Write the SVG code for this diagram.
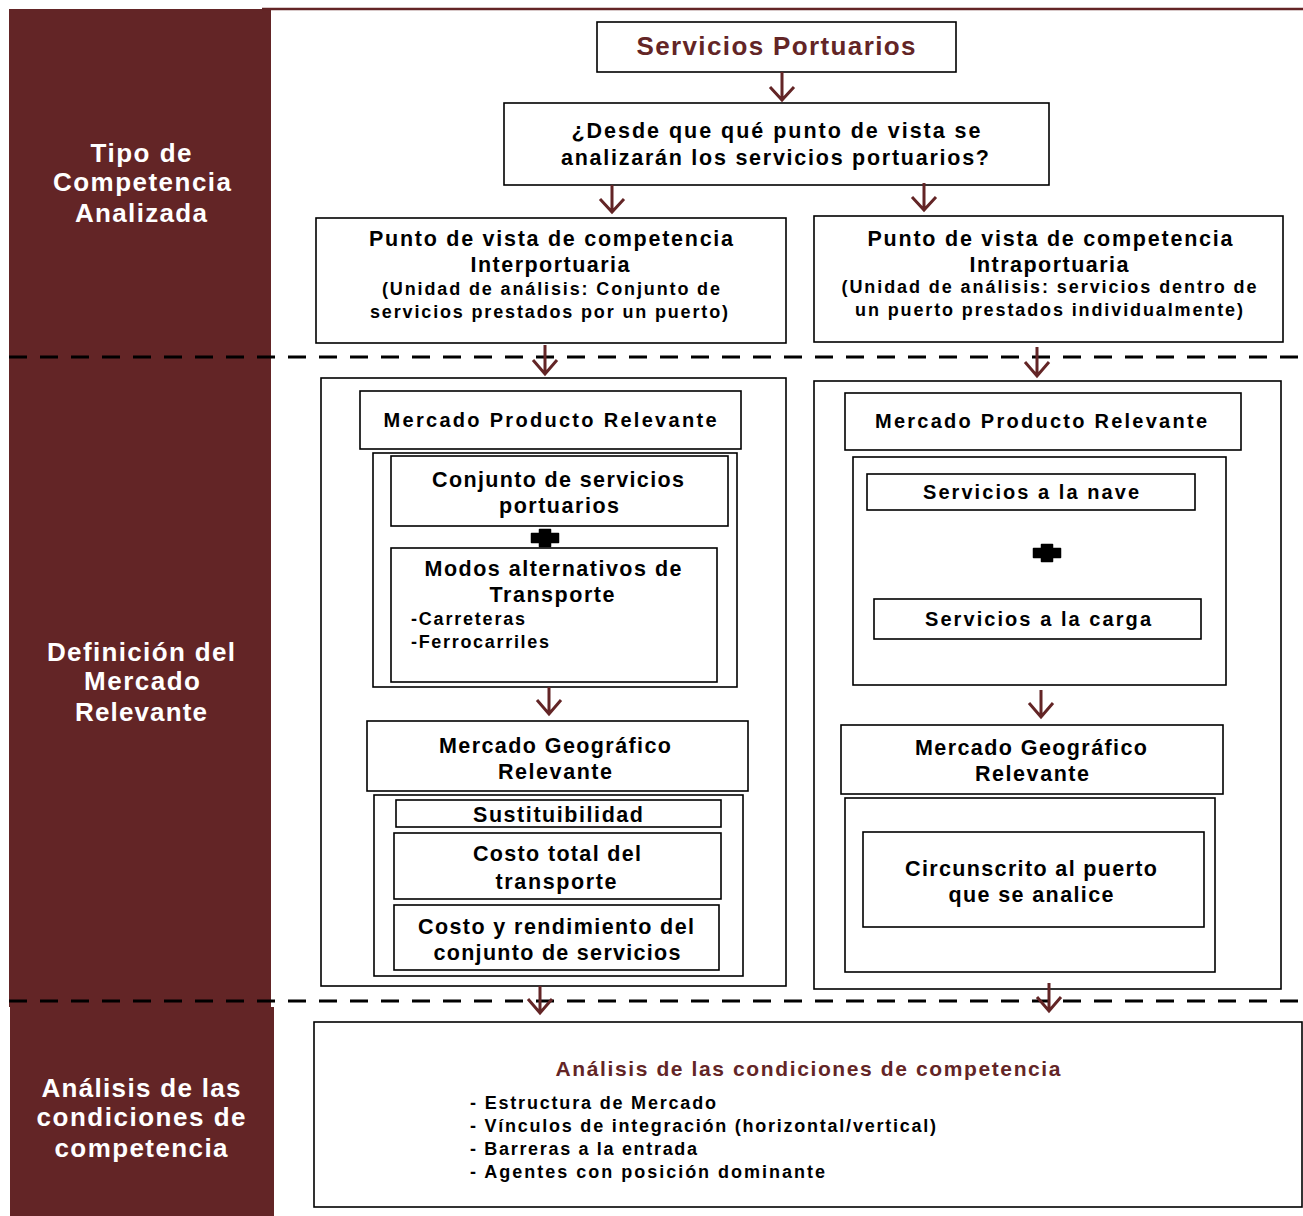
<svg xmlns="http://www.w3.org/2000/svg" width="1303" height="1216" viewBox="0 0 1303 1216">
<style>
text{font-family:"Liberation Sans",Arial,sans-serif;font-weight:bold;fill:#000;text-anchor:middle}
.side{fill:#fff;font-size:26px}
.box{fill:#fff;stroke:#000;stroke-width:1.6}
.t20{font-size:21.5px}
.t18{font-size:20px}
.t17{font-size:18px}
.lft{text-anchor:start}
.plus{fill:#000;stroke:#000;stroke-width:1.5;stroke-linejoin:round}
.arr{fill:none;stroke:#632526;stroke-width:3}
.dash{stroke:#000;stroke-width:3.2;stroke-dasharray:18 13}
</style>
<rect width="1303" height="1216" fill="#fff"/>
<g id="sidebar">
<rect x="9" y="9" width="262" height="998" fill="#632526"/>
<rect x="10" y="1007" width="264" height="209" fill="#632526"/>
<line x1="262" y1="9" x2="1303" y2="9" stroke="#632526" stroke-width="2.6"/>
<text class="side" x="141" y="162" textLength="101" lengthAdjust="spacing">Tipo de</text>
<text class="side" x="142" y="191" textLength="178" lengthAdjust="spacing">Competencia</text>
<text class="side" x="141" y="222" textLength="132" lengthAdjust="spacing">Analizada</text>
<text class="side" x="141" y="661" textLength="188" lengthAdjust="spacing">Definición del</text>
<text class="side" x="142" y="690" textLength="116" lengthAdjust="spacing">Mercado</text>
<text class="side" x="141" y="721" textLength="132" lengthAdjust="spacing">Relevante</text>
<text class="side" x="141" y="1097" textLength="199" lengthAdjust="spacing">Análisis de las</text>
<text class="side" x="141" y="1126" textLength="209" lengthAdjust="spacing">condiciones de</text>
<text class="side" x="141" y="1157" textLength="173" lengthAdjust="spacing">competencia</text>
</g>
<g id="dividers">
<line class="dash" x1="9" y1="357" x2="1303" y2="357"/>
<line class="dash" x1="9" y1="1001" x2="1303" y2="1001"/>
</g>
<g id="servicios-portuarios">
<rect class="box" x="597" y="22" width="359" height="50"/>
<text x="776" y="55" style="font-size:26px;fill:#632526" textLength="279" lengthAdjust="spacing">Servicios Portuarios</text>
</g>
<g id="pregunta">
<rect class="box" x="504" y="103" width="545" height="82"/>
<text class="t20" x="776" y="138" textLength="409" lengthAdjust="spacing">¿Desde que qué punto de vista se</text>
<text class="t20" x="775" y="165" textLength="428" lengthAdjust="spacing">analizarán los servicios portuarios?</text>
</g>
<g id="interportuaria">
<rect class="box" x="316" y="218" width="470" height="125"/>
<text class="t20" x="551" y="246" textLength="364" lengthAdjust="spacing">Punto de vista de competencia</text>
<text class="t20" x="550" y="272" textLength="159" lengthAdjust="spacing">Interportuaria</text>
<text class="t17" x="551" y="295" textLength="338" lengthAdjust="spacing">(Unidad de análisis: Conjunto de</text>
<text class="t17" x="549" y="318" textLength="358" lengthAdjust="spacing">servicios prestados por un puerto)</text>
</g>
<g id="intraportuaria">
<rect class="box" x="814" y="216" width="469" height="126"/>
<text class="t20" x="1050" y="246" textLength="365" lengthAdjust="spacing">Punto de vista de competencia</text>
<text class="t20" x="1049" y="272" textLength="159" lengthAdjust="spacing">Intraportuaria</text>
<text class="t17" x="1049" y="293" textLength="415" lengthAdjust="spacing">(Unidad de análisis: servicios dentro de</text>
<text class="t17" x="1049" y="316" textLength="388" lengthAdjust="spacing">un puerto prestados individualmente)</text>
</g>
<g id="mercado-izq">
<rect class="box" x="321" y="378" width="465" height="608"/>
<rect class="box" x="360" y="391" width="381" height="58"/>
<text class="t18" x="550" y="427" textLength="333" lengthAdjust="spacing">Mercado Producto Relevante</text>
<rect class="box" x="373" y="453" width="364" height="234"/>
<rect class="box" x="391" y="456" width="337" height="70"/>
<text class="t20" x="558" y="487" textLength="252" lengthAdjust="spacing">Conjunto de servicios</text>
<text class="t20" x="559" y="513" textLength="120" lengthAdjust="spacing">portuarios</text>
<path class="plus" d="M539.5 529.5h11v4h8v9h-8v4h-11v-4h-8v-9h8z"/>
<rect class="box" x="391" y="548" width="326" height="134"/>
<text class="t20" x="553" y="576" textLength="257" lengthAdjust="spacing">Modos alternativos de</text>
<text class="t20" x="552" y="602" textLength="125" lengthAdjust="spacing">Transporte</text>
<text class="t17 lft" x="411" y="625" textLength="114" lengthAdjust="spacing">-Carreteras</text>
<text class="t17 lft" x="411" y="648" textLength="138" lengthAdjust="spacing">-Ferrocarriles</text>
<rect class="box" x="367" y="721" width="381" height="70"/>
<text class="t20" x="555" y="753" textLength="232" lengthAdjust="spacing">Mercado Geográfico</text>
<text class="t20" x="555" y="779" textLength="114" lengthAdjust="spacing">Relevante</text>
<rect class="box" x="374" y="795" width="369" height="181"/>
<rect class="box" x="396" y="800" width="325" height="27"/>
<text class="t20" x="558" y="822" textLength="170" lengthAdjust="spacing">Sustituibilidad</text>
<rect class="box" x="394" y="833" width="327" height="66"/>
<text class="t20" x="557" y="861" textLength="168" lengthAdjust="spacing">Costo total del</text>
<text class="t20" x="556" y="889" textLength="121" lengthAdjust="spacing">transporte</text>
<rect class="box" x="394" y="905" width="325" height="65"/>
<text class="t20" x="556" y="934" textLength="276" lengthAdjust="spacing">Costo y rendimiento del</text>
<text class="t20" x="557" y="960" textLength="247" lengthAdjust="spacing">conjunto de servicios</text>
</g>
<g id="mercado-der">
<rect class="box" x="814" y="381" width="467" height="608"/>
<rect class="box" x="845" y="393" width="396" height="57"/>
<text class="t18" x="1041" y="428" textLength="332" lengthAdjust="spacing">Mercado Producto Relevante</text>
<rect class="box" x="853" y="457" width="373" height="228"/>
<rect class="box" x="867" y="474" width="328" height="36"/>
<text class="t18" x="1031" y="499" textLength="216" lengthAdjust="spacing">Servicios a la nave</text>
<path class="plus" d="M1041.5 544.5h11v4h8v9h-8v4h-11v-4h-8v-9h8z"/>
<rect class="box" x="874" y="599" width="327" height="40"/>
<text class="t18" x="1038" y="626" textLength="226" lengthAdjust="spacing">Servicios a la carga</text>
<rect class="box" x="841" y="725" width="382" height="69"/>
<text class="t20" x="1031" y="755" textLength="232" lengthAdjust="spacing">Mercado Geográfico</text>
<text class="t20" x="1032" y="781" textLength="114" lengthAdjust="spacing">Relevante</text>
<rect class="box" x="845" y="798" width="370" height="174"/>
<rect class="box" x="863" y="832" width="341" height="95"/>
<text class="t20" x="1031" y="876" textLength="252" lengthAdjust="spacing">Circunscrito al puerto</text>
<text class="t20" x="1031" y="902" textLength="165" lengthAdjust="spacing">que se analice</text>
</g>
<g id="analisis">
<rect class="box" x="314" y="1022" width="988" height="185"/>
<text x="808" y="1076" style="font-size:21px;fill:#632526" textLength="505" lengthAdjust="spacing">Análisis de las condiciones de competencia</text>
<text class="t17 lft" x="470" y="1109" textLength="246" lengthAdjust="spacing">- Estructura de Mercado</text>
<text class="t17 lft" x="470" y="1132" textLength="466" lengthAdjust="spacing">- Vínculos de integración (horizontal/vertical)</text>
<text class="t17 lft" x="470" y="1155" textLength="227" lengthAdjust="spacing">- Barreras a la entrada</text>
<text class="t17 lft" x="470" y="1178" textLength="355" lengthAdjust="spacing">- Agentes con posición dominante</text>
</g>
<g id="connectors">
<path class="arr" d="M782 72V100M770 87L782 100L794 87"/>
<path class="arr" d="M612 185V212M600 199L612 212L624 199"/>
<path class="arr" d="M924 183V210M912 197L924 210L936 197"/>
<path class="arr" d="M545 345V374M533 360L545 374L557 360"/>
<path class="arr" d="M1037 347V376M1025 362L1037 376L1049 362"/>
<path class="arr" d="M549 687V714M537 700L549 714L561 700"/>
<path class="arr" d="M1041 690V717M1029 703L1041 717L1053 703"/>
<path class="arr" d="M540 986V1013M528 999L540 1013L552 999"/>
<path class="arr" d="M1049 983V1011M1037 997L1049 1011L1061 997"/>
</g>
</svg>
